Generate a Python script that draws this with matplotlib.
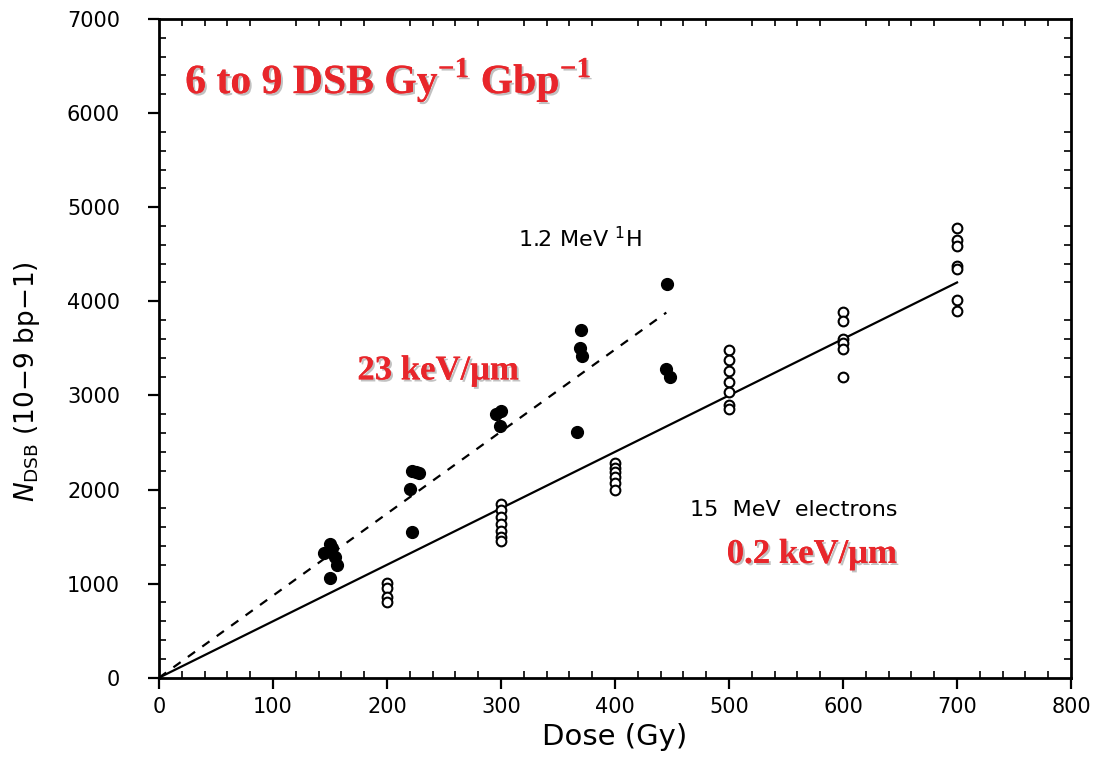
import numpy as np
import matplotlib.pyplot as plt
import matplotlib.patheffects as pe
from matplotlib.ticker import MultipleLocator

plt.rcParams['mathtext.fontset'] = 'custom'
plt.rcParams['mathtext.rm'] = 'DejaVu Sans'
plt.rcParams['mathtext.it'] = 'DejaVu Sans:italic'
plt.rcParams['mathtext.bf'] = 'Liberation Serif:bold'

# 1.2 MeV protons (filled)
proton_dose = [145, 150, 152, 154, 156, 150,
               220, 222, 225, 228, 222,
               296, 300, 299,
               370, 369, 371, 367,
               446, 445, 448]
proton_dsb = [1320, 1420, 1380, 1280, 1200, 1060,
              2010, 2200, 2190, 2180, 1550,
              2800, 2830, 2670,
              3700, 3500, 3420, 2610,
              4180, 3280, 3200]

# 15 MeV electrons (open)
electron_dose = [200, 200, 200, 200,
                 300, 300, 300, 300, 300, 300, 300,
                 400, 400, 400, 400, 400, 400,
                 500, 500, 500, 500, 500, 500, 500,
                 600, 600, 600, 600, 600, 600,
                 700, 700, 700, 700, 700, 700, 700]
electron_dsb = [1010, 950, 860, 800,
                1850, 1780, 1710, 1630, 1560, 1500, 1450,
                2280, 2230, 2190, 2130, 2070, 1990,
                3480, 3380, 3260, 3140, 3040, 2900, 2860,
                3890, 3790, 3600, 3560, 3490, 3200,
                4780, 4650, 4590, 4380, 4340, 4010, 3900]

fit_e_dose = [0, 700]
fit_e_dsb = [0, 4200]
fit_p_dose = [0, 445]
fit_p_dsb = [0, 3880]

fig = plt.figure(figsize=(11.01, 7.59), dpi=100)
ax = fig.add_axes([0.1444, 0.1071, 0.8284, 0.8679])

ax.plot(fit_e_dose, fit_e_dsb, color='black', lw=1.6)
ax.plot(fit_p_dose, fit_p_dsb, color='black', lw=1.6, ls=(0, (4, 4)))
ax.plot(proton_dose, proton_dsb, 'o', color='black', ms=8.5)
ax.plot(electron_dose, electron_dsb, 'o', mfc='white', mec='black', ms=7, mew=1.5)

ax.set_xlim(0, 800)
ax.set_ylim(0, 7000)
ax.xaxis.set_major_locator(MultipleLocator(100))
ax.xaxis.set_minor_locator(MultipleLocator(20))
ax.yaxis.set_major_locator(MultipleLocator(1000))
ax.yaxis.set_minor_locator(MultipleLocator(200))
ax.tick_params(which='major', direction='out', length=8, width=1.6, labelsize=15, top=False, right=False)
ax.tick_params(which='minor', direction='in', length=5, width=1.2, top=True, right=True)
ax.tick_params(axis='x', which='major', pad=6)
ax.tick_params(axis='y', which='major', pad=20)
for s in ax.spines.values():
    s.set_linewidth(2)

ax.set_xlabel('Dose (Gy)', fontsize=21, labelpad=4)
ax.set_ylabel(r'$N_{\mathrm{DSB}}$ (10−9 bp−1)', fontsize=19)
ax.yaxis.set_label_coords(-0.128, 0.45)

ax.text(315, 4580, r'1.2 MeV $^{1}$H', fontsize=16)
ax.text(466, 1720, '15  MeV  electrons', fontsize=16)

red = '#e8262b'
shadow = [pe.withSimplePatchShadow(offset=(1.5, -1.5), shadow_rgbFace='#999999', alpha=0.6), pe.Normal()]
ax.text(23, 6210, r'6 to 9 DSB Gy$^{\mathbf{-1}}$ Gbp$^{\mathbf{-1}}$', fontsize=30, color=red,
        family='Liberation Serif', weight='bold', path_effects=shadow)
ax.text(174, 3170, '23 keV/\u03bcm', fontsize=25, color=red,
        family='Liberation Serif', weight='bold', path_effects=shadow)
ax.text(498, 1220, '0.2 keV/\u03bcm', fontsize=25, color=red,
        family='Liberation Serif', weight='bold', path_effects=shadow)

fig.savefig('out.png', dpi=100)
